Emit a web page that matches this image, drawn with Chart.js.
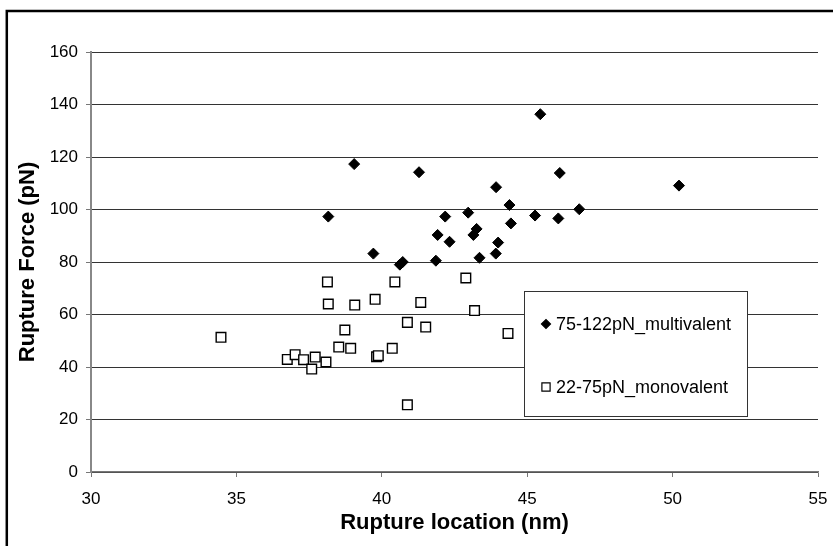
<!DOCTYPE html>
<html>
<head>
<meta charset="utf-8">
<script src="https://cdn.jsdelivr.net/npm/chart.js@4/dist/chart.umd.min.js"></script>
<style>
  html, body { margin: 0; padding: 0; background: #fff; }
  #wrap { width: 833px; height: 546px; }
</style>
</head>
<body>
<div id="wrap"><canvas id="scatterChart" width="833" height="546"></canvas></div>
<script>
// rupture location (nm) / force (pN)
var multiLabel = '75-122pN_multivalent';
var multiX = [38.16, 39.05, 39.71, 40.62, 40.72, 41.28, 41.86, 41.92, 42.18, 42.33, 42.97, 43.15, 43.26,
              43.36, 43.92, 43.93, 44.0, 44.39, 44.44, 45.27, 45.45, 46.07, 46.12, 46.79, 50.22];
var multiY = [97.3, 117.3, 83.2, 79.0, 80.0, 114.2, 80.5, 90.3, 97.3, 87.7, 98.8, 90.3, 92.6,
              81.6, 83.2, 108.5, 87.4, 101.7, 94.7, 97.7, 136.3, 96.6, 113.9, 100.1, 109.1];

var monoLabel = '22-75pN_monovalent';
var monoX = [34.47, 36.75, 37.02, 37.31, 37.59, 37.71, 38.08, 38.13, 38.16, 38.52, 38.73, 38.93, 39.07,
             39.77, 39.82, 39.88, 40.36, 40.45, 40.88, 40.88, 41.34, 41.51, 42.89, 43.19, 44.34];
var monoY = [51.3, 42.9, 44.7, 42.8, 39.2, 43.8, 41.9, 72.4, 64.0, 47.6, 54.1, 47.1, 63.6,
             65.8, 43.9, 44.3, 47.1, 72.4, 57.0, 25.6, 64.6, 55.2, 73.9, 61.5, 52.8];

var xMin = 30, xMax = 55, xStep = 5;
var yMin = 0, yMax = 160, yStep = 20;

function toPoints(xs, ys) {
    var pts = [];
    for (var i = 0; i < xs.length; i++) {
        pts.push({x: xs[i], y: ys[i]});
    }
    return pts;
}

// white page + thick frame, like the excel chart box
var frame = {
    id: 'frame',
    beforeDraw: function(chart) {
        var ctx = chart.ctx;
        ctx.save();
        ctx.fillStyle = '#fff';
        ctx.fillRect(0, 0, chart.width, chart.height);
        ctx.strokeStyle = '#000';
        ctx.lineWidth = 2.5;
        ctx.strokeRect(6.8, 11, chart.width + 20, chart.height + 20);
        ctx.restore();
    }
};

// boxed legend sitting inside the plot
var boxLegend = {
    id: 'boxLegend',
    afterDraw: function(chart) {
        var ctx = chart.ctx;
        var bx = 524.5, by = 291.5, bw = 223, bh = 125;
        ctx.save();
        ctx.fillStyle = '#fff';
        ctx.fillRect(bx, by, bw, bh);
        ctx.strokeStyle = '#333';
        ctx.lineWidth = 1;
        ctx.strokeRect(bx, by, bw, bh);
        var rows = [324, 387];
        chart.data.datasets.forEach(function(ds, i) {
            ctx.fillStyle = ds.backgroundColor;
            ctx.strokeStyle = ds.borderColor;
            ctx.lineWidth = 1.2;
            Chart.helpers.drawPoint(ctx, {
                pointStyle: ds.pointStyle,
                radius: ds.legendRadius,
                borderWidth: 1.2
            }, 546, rows[i]);
            ctx.fillStyle = '#000';
            ctx.font = '18px "Liberation Sans", Arial, sans-serif';
            ctx.textBaseline = 'middle';
            ctx.textAlign = 'left';
            ctx.fillText(ds.label, 556, rows[i] + 1);
        });
        ctx.restore();
    }
};

var tickFont = {family: '"Liberation Sans", Arial, sans-serif', size: 17};
var titleFont = {family: '"Liberation Sans", Arial, sans-serif', size: 22, weight: 'bold'};

var ctx = document.getElementById('scatterChart').getContext('2d');
new Chart(ctx, {
    type: 'scatter',
    data: {
        datasets: [
            {
                label: multiLabel,
                data: toPoints(multiX, multiY),
                pointStyle: 'rectRot',
                pointRadius: 5.5,
                legendRadius: 4.5,
                backgroundColor: '#000',
                borderColor: '#000',
                borderWidth: 1
            },
            {
                label: monoLabel,
                data: toPoints(monoX, monoY),
                pointStyle: 'rect',
                pointRadius: 6.8,
                legendRadius: 5.8,
                backgroundColor: '#fff',
                borderColor: '#000',
                borderWidth: 1.4
            }
        ]
    },
    plugins: [frame, boxLegend],
    options: {
        responsive: false,
        animation: false,
        layout: {padding: {top: 52, right: 15, bottom: 0, left: 0}},
        plugins: {
            legend: {display: false},
            tooltip: {enabled: false}
        },
        scales: {
            x: {
                type: 'linear',
                min: xMin,
                max: xMax,
                afterFit: function(scale) {
                    scale.height = 74;
                    scale.paddingLeft = 0;
                    scale.paddingRight = 0;
                },
                ticks: {stepSize: xStep, color: '#000', font: tickFont, padding: 12, maxRotation: 0},
                grid: {drawOnChartArea: false, drawTicks: true, tickLength: 5, color: '#777'},
                border: {color: '#777', width: 1.5},
                title: {display: true, text: 'Rupture location (nm)', color: '#000', font: titleFont,
                        padding: {top: 0, bottom: 10}}
            },
            y: {
                min: yMin,
                max: yMax,
                afterFit: function(scale) { scale.width = 91; },
                ticks: {stepSize: yStep, color: '#000', font: tickFont, padding: 8},
                grid: {color: '#333', lineWidth: 1, tickLength: 5, tickColor: '#777'},
                border: {color: '#888', width: 2},
                title: {display: true, text: 'Rupture Force (pN)', color: '#000', font: titleFont,
                        padding: {top: 15, bottom: 0}}
            }
        }
    }
});
</script>
</body>
</html>
